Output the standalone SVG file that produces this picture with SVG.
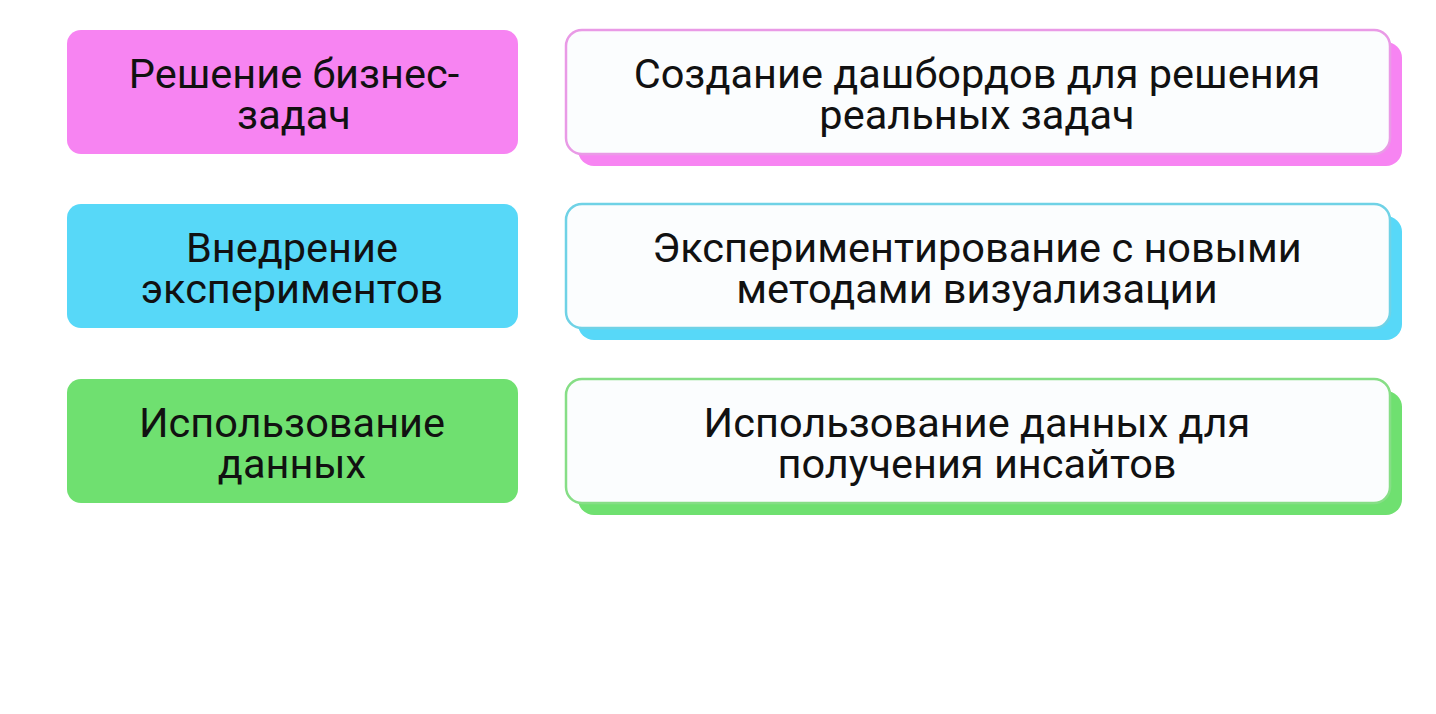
<svg xmlns="http://www.w3.org/2000/svg" width="1436" height="714" viewBox="0 0 1436 714">
<style>
text{font-family:Roboto,"Liberation Sans",sans-serif;font-size:41.5px;fill:#111;text-anchor:middle}
.w{fill:#FBFDFE;stroke-width:2.5}
</style>
<rect width="1436" height="714" fill="#fff"/>
<g id="connectors"/>
<g id="n1"><rect x="67" y="30" width="451" height="124" rx="14" fill="#F784F2"/><text x="294" y="88">Решение бизнес-</text><text x="294" y="129">задач</text></g>
<g id="n2"><rect x="578" y="42" width="824" height="124" rx="16" fill="#F784F2"/><rect class="w" x="566" y="30" width="824" height="124" rx="16" stroke="#E99AE6"/><text x="977" y="88">Создание дашбордов для решения</text><text x="977" y="129">реальных задач</text></g>
<g id="n3"><rect x="67" y="204" width="451" height="124" rx="14" fill="#57D8F8"/><text x="292" y="262">Внедрение</text><text x="292" y="303">экспериментов</text></g>
<g id="n4"><rect x="578" y="216" width="824" height="124" rx="16" fill="#57D8F8"/><rect class="w" x="566" y="204" width="824" height="124" rx="16" stroke="#6FD2E6"/><text x="977" y="262">Экспериментирование с новыми</text><text x="977" y="303">методами визуализации</text></g>
<g id="n5"><rect x="67" y="379" width="451" height="124" rx="14" fill="#6FE070"/><text x="292" y="437">Использование</text><text x="292" y="478">данных</text></g>
<g id="n6"><rect x="578" y="391" width="824" height="124" rx="16" fill="#6FE070"/><rect class="w" x="566" y="379" width="824" height="124" rx="16" stroke="#86DE86"/><text x="977" y="437">Использование данных для</text><text x="977" y="478">получения инсайтов</text></g>
</svg>
